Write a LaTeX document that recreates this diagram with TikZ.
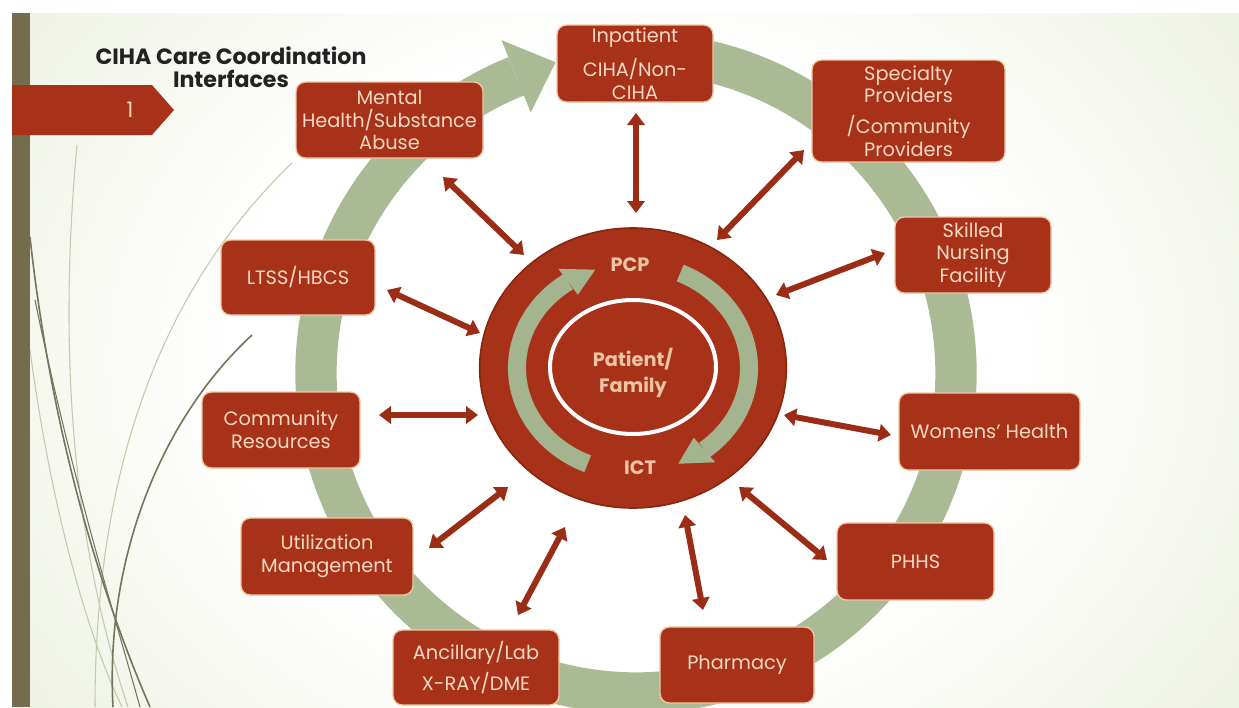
\documentclass[tikz,border=0pt]{standalone}
\usepackage{fontspec}
\setmainfont{Poppins}
\usetikzlibrary{calc,arrows.meta,shapes.geometric}
\definecolor{boxred}{HTML}{A83219}
\definecolor{hubedge}{HTML}{86260F}
\definecolor{boxedge}{HTML}{F1C7A6}
\definecolor{boxtext}{HTML}{F7D8C3}
\definecolor{arrred}{HTML}{9B2C15}
\definecolor{ringgreen}{HTML}{A9BA95}
\definecolor{innergreen}{HTML}{A4B48F}
\definecolor{bgmid}{HTML}{EBF0DE}
\definecolor{bggreen}{HTML}{D9E4BD}
\definecolor{barolive}{HTML}{736C4D}
\definecolor{wispdark}{HTML}{74755A}
\definecolor{wisplight}{HTML}{C2CAAC}
\definecolor{titlecol}{HTML}{222222}
\definecolor{pcpcol}{HTML}{EDC3A3}
\pgfdeclareradialshading{slidebg}{\pgfpoint{0bp}{0bp}}{color(0bp)=(white); color(16bp)=(white); color(33bp)=(bgmid); color(54bp)=(bggreen); color(70bp)=(bggreen)}
\begin{document}
\begin{tikzpicture}[x=0.75pt,y=-0.75pt,
  box/.style n args={2}{draw=boxedge, line width=1pt, fill=boxred, rounded corners=7pt, text=boxtext, align=center, font=\fontsize{14.5}{17}\selectfont, inner sep=0pt, minimum width=#1*0.75pt, minimum height=#2*0.75pt},
  dblarr/.style={draw=arrred, line width=4.5pt, {Triangle[width=13pt,length=9pt]}-{Triangle[width=13pt,length=9pt]}},
  wispd/.style={draw=wispdark, line width=1.2pt},
  wispl/.style={draw=wisplight, line width=0.8pt},
  centertext/.style={text=pcpcol, font=\bfseries\fontsize{14.5}{19}\selectfont, align=center}
]
\useasboundingbox (0,0) rectangle (1239,707);
\fill[white] (0,0) rectangle (1239,707);
\begin{scope}
  \clip (12,13) rectangle (1239,707);
  \shade[shading=slidebg] (12,-130) rectangle (1239,850);
  \draw[wispl] (77,145) .. controls (58,350) and (72,540) .. (128,707);
  \draw[wispl] (292,163) .. controls (160,290) and (95,470) .. (95,707);
  \draw[wispl] (30,350) .. controls (50,500) and (85,630) .. (122,707);
  \draw[wispd] (30,237) .. controls (50,420) and (95,580) .. (150,707);
  \draw[wispd] (252,335) .. controls (160,420) and (105,560) .. (113,707);
  \draw[wispd, line width=0.8pt] (35,300) .. controls (70,470) and (110,600) .. (140,707);
\end{scope}
\fill[barolive] (12,13) rectangle (30,707);

% big cycle ring
\coordinate (ringc) at (636,373);
\draw[ringgreen, line width=31pt] ($(ringc)+(-88:320)$) arc[start angle=-88, end angle=248, radius=320];
\fill[ringgreen] ($(ringc)+(248:359)$) -- ($(ringc)+(255.5:321)$) -- ($(ringc)+(248:281)$) -- cycle;

% title and section tab
\node[text=titlecol, font=\bfseries\fontsize{16.6}{17.3}\selectfont, align=center] (title) at (231,67) {CIHA Care Coordination\\Interfaces};
\fill[boxred] (12,85) -- (152,85) -- (174,110) -- (152,135) -- (12,135) -- cycle;
\node[text=boxtext, font=\fontsize{16}{18}\selectfont] (num) at (130,110) {1};

% hub
\node[ellipse, fill=boxred, draw=hubedge, line width=1.2pt, minimum width=230pt, minimum height=210pt, inner sep=0pt] (hub) at (633,368) {};
\node[ellipse, draw=white, line width=3pt, minimum width=124.5pt, minimum height=100.5pt, inner sep=0pt] (fam) at (633,367) {};
\node[centertext] (famtext) at (633,373) {Patient/\\Family};
\draw[innergreen, line width=13.5pt] ($(hub.center)+({116*cos(-66)},{104*sin(-66)})$) arc[start angle=-66, end angle=52, x radius=116, y radius=104];
\fill[innergreen] ($(hub.center)+({116*1.15*cos(52)},{104*1.15*sin(52)})$) -- ($(hub.center)+({116*cos(67)},{104*sin(67)})$) -- ($(hub.center)+({116*0.85*cos(52)},{104*0.85*sin(52)})$) -- cycle;
\draw[innergreen, line width=13.5pt] ($(hub.center)+({116*cos(113)},{104*sin(113)})$) arc[start angle=113, end angle=236, x radius=116, y radius=104];
\fill[innergreen] ($(hub.center)+({116*1.15*cos(236)},{104*1.15*sin(236)})$) -- ($(hub.center)+({116*cos(251)},{104*sin(251)})$) -- ($(hub.center)+({116*0.85*cos(236)},{104*0.85*sin(236)})$) -- cycle;
\node[centertext] (pcp) at (630,265) {PCP};
\node[centertext] (ict) at (640,468) {ICT};

% boxes
\node[box={187}{76}] (mh) at (389.5,120) {Mental\\Health/Substance\\Abuse};
\node[box={156}{77}] (inp) at (635,63.5) {Inpatient\\[7pt]CIHA/Non-\\CIHA};
\node[box={193}{102}] (spec) at (908.5,111) {Specialty\\Providers\\[6pt]/Community\\Providers};
\node[box={156}{76}] (snf) at (973,255) {Skilled\\Nursing\\Facility};
\node[box={181}{77}] (wom) at (989.5,431.5) {Womens’ Health};
\node[box={157}{77}] (phhs) at (915.5,561.5) {PHHS};
\node[box={154}{76}] (pharm) at (737,665) {Pharmacy};
\node[box={166}{75}] (anc) at (476,667.5) {Ancillary/Lab\\[5pt]X-RAY/DME};
\node[box={172}{77}] (um) at (327,556.5) {Utilization\\Management};
\node[box={158}{76}] (cr) at (281,430) {Community\\Resources};
\node[box={154}{75}] (ltss) at (298,277.5) {LTSS/HBCS};

% double arrows
\coordinate (mhA) at (443,177);   \coordinate (mhB) at (524,255);
\coordinate (inpA) at (636,113);  \coordinate (inpB) at (636,213);
\coordinate (specA) at (804,150); \coordinate (specB) at (717,240);
\coordinate (snfA) at (885,253);  \coordinate (snfB) at (776,295);
\coordinate (womA) at (891,435);  \coordinate (womB) at (784,415);
\coordinate (phhsA) at (827,560); \coordinate (phhsB) at (739,487);
\coordinate (pharmA) at (703,610);\coordinate (pharmB) at (685,515);
\coordinate (ancA) at (518,615);  \coordinate (ancB) at (565,527);
\coordinate (umA) at (429,548);   \coordinate (umB) at (508,487);
\coordinate (crA) at (379,415);   \coordinate (crB) at (478,415);
\coordinate (ltssA) at (387,290); \coordinate (ltssB) at (480,333);
\draw[dblarr] (mhA) -- (mhB);
\draw[dblarr] (inpA) -- (inpB);
\draw[dblarr] (specA) -- (specB);
\draw[dblarr] (snfA) -- (snfB);
\draw[dblarr] (womA) -- (womB);
\draw[dblarr] (phhsA) -- (phhsB);
\draw[dblarr] (pharmA) -- (pharmB);
\draw[dblarr] (ancA) -- (ancB);
\draw[dblarr] (umA) -- (umB);
\draw[dblarr] (crA) -- (crB);
\draw[dblarr] (ltssA) -- (ltssB);
\end{tikzpicture}
\end{document}
